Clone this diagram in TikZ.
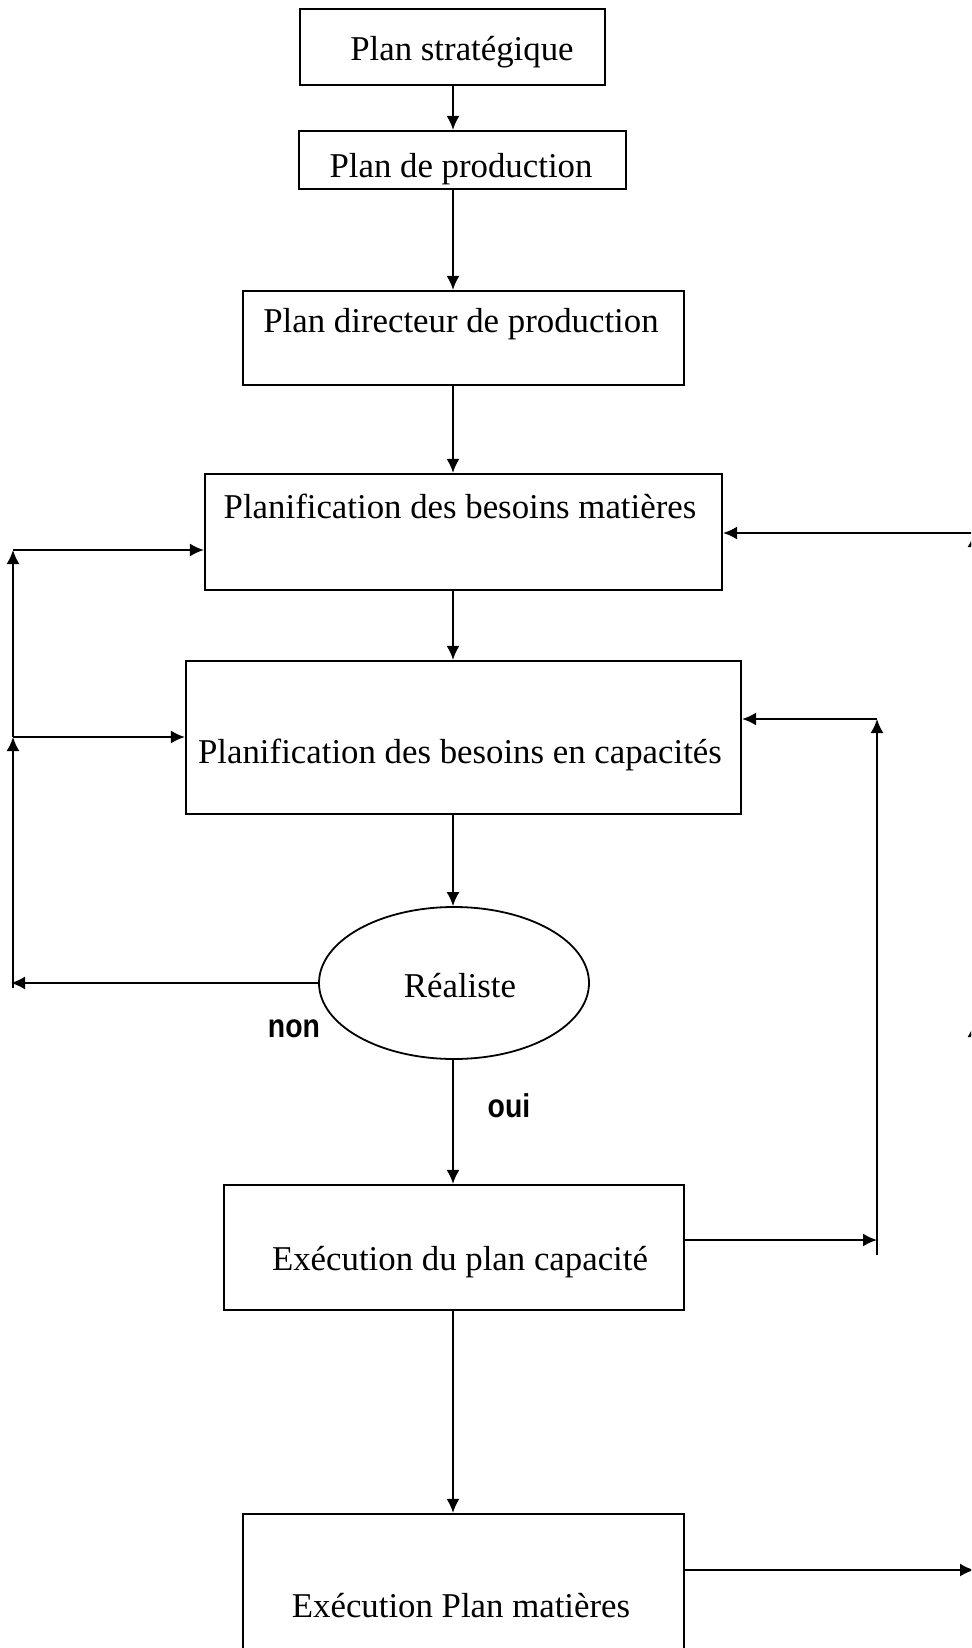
\documentclass[tikz,border=0pt]{standalone}
\usepackage{fontspec}
\setmainfont{Liberation Serif}
\newfontfamily\lblfont{Liberation Sans}
\usetikzlibrary{arrows.meta,shapes.geometric,fit}

\begin{document}
\begin{tikzpicture}[x=0.5pt,y=-0.5pt,
  box/.style={draw,line width=1.1pt,inner sep=0pt,rectangle},
  txt/.style={font=\fontsize{17.4}{20}\selectfont,inner sep=0pt,anchor=base},
  lbl/.style={font=\lblfont\bfseries\fontsize{16.5}{18}\selectfont,inner sep=0pt,anchor=base,xscale=0.86},
  arr/.style={line width=0.95pt,-{Latex[length=7pt,width=6.5pt]}},
  ln/.style={line width=0.95pt}]
\path[use as bounding box] (0,0) rectangle (971,1648);
\clip (0,0) rectangle (971,1648);

% boxes
\node[box,fit={(300,9) (605,85)}] (b1) {};
\node[box,fit={(299,131) (626,189)}] (b2) {};
\node[box,fit={(243,291) (684,385)}] (b3) {};
\node[box,fit={(205,474) (722,590)}] (b4) {};
\node[box,fit={(186,661) (741,814)}] (b5) {};
\node[draw,ellipse,line width=0.9pt,inner sep=0pt,minimum width=135pt,minimum height=76pt] (E) at (454,983) {};
\node[box,fit={(224,1185) (684,1310)}] (b6) {};
\node[box,fit={(243,1514) (684,1652)}] (b7) {};

% texts
\node[txt] (t1) at (462,61) {Plan stratégique};
\node[txt] (t2) at (461,178) {Plan de production};
\node[txt] (t3) at (461,332) {Plan directeur de production};
\node[txt] (t4) at (460,518) {Planification des besoins matières};
\node[txt] (t5) at (460,763) {Planification des besoins en capacités};
\node[txt] (tE) at (460,997) {Réaliste};
\node[txt] (t6) at (460,1270) {Exécution du plan capacité};
\node[txt] (t7) at (461,1617) {Exécution Plan matières};
\node[lbl] (non) at (294,1037) {non};
\node[lbl] (oui) at (509,1117) {oui};

% main chain
\coordinate (cx) at (453,0);
\draw[arr] (b1.south -| cx) -- (b2.north -| cx);
\draw[arr] (b2.south -| cx) -- (b3.north -| cx);
\draw[arr] (b3.south -| cx) -- (b4.north -| cx);
\draw[arr] (b4.south -| cx) -- (b5.north -| cx);
\draw[arr] (b5.south -| cx) -- (E.north -| cx);
\draw[arr] (E.south -| cx) -- (b6.north -| cx);
\draw[arr] (b6.south -| cx) -- (b7.north -| cx);

% left feedback loop
\coordinate (L1) at (13,550);
\coordinate (L2) at (13,737);
\coordinate (Lnon) at (11,983);
\coordinate (Lbot) at (13,988);
\draw[arr] (E.west) -- (Lnon);
\draw[arr] (Lbot) -- (L2);
\draw[arr] (L2) -- (L1);
\draw[arr] (L1) -- (b4.west |- L1);
\draw[arr] (L2) -- (b5.west |- L2);

% inner right loop
\coordinate (R1) at (877,719);
\coordinate (R2) at (877,1255);
\coordinate (R3) at (877,1240);
\draw[arr] (R2) -- (R1);
\draw[arr] (R1) -- (b5.east |- R1);
\draw[arr] (b6.east |- R3) -- (R3);

% outer right loop
\coordinate (Q1) at (974,533);
\coordinate (Q2) at (974,1023);
\coordinate (Q3) at (974,1570);
\draw[arr] (b7.east |- Q3) -- (Q3);
\draw[arr] (Q3) -- (Q2);
\draw[arr] (Q2) -- (Q1);
\draw[arr] (Q1) -- (b4.east |- Q1);
\end{tikzpicture}
\end{document}
